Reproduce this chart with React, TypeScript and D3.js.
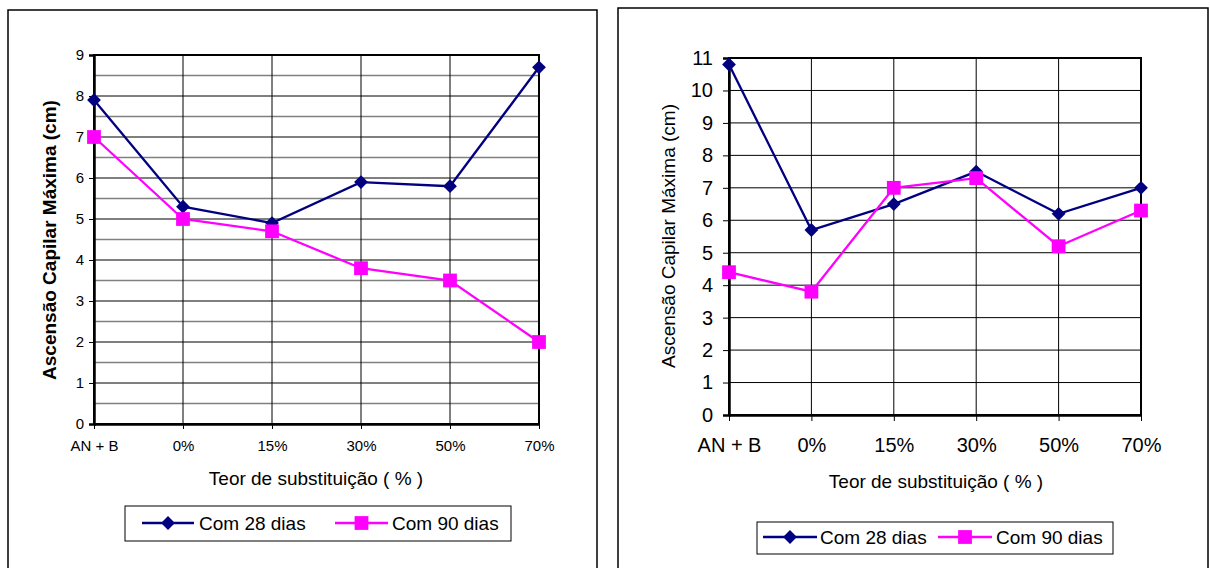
import * as d3 from 'd3';
import { useEffect, useRef } from 'react';

const categories = ["AN + B", "0%", "15%", "30%", "50%", "70%"];
const seriesNames = ["Com 28 dias", "Com 90 dias"];

// left panel (bold axis title, minor grid)
const left28 = [7.9, 5.3, 4.9, 5.9, 5.8, 8.7];
const left90 = [7.0, 5.0, 4.7, 3.8, 3.5, 2.0];
const leftYTicks = [0, 1, 2, 3, 4, 5, 6, 7, 8, 9];

// right panel
const right28 = [10.8, 5.7, 6.5, 7.5, 6.2, 7.0];
const right90 = [4.4, 3.8, 7.0, 7.3, 5.2, 6.3];
const rightYTicks = [0, 1, 2, 3, 4, 5, 6, 7, 8, 9, 10, 11];

const yTitle = "Ascensão Capilar Máxima (cm)";
const xTitle = "Teor de substituição ( % )";

const FONT = "Arial, 'Liberation Sans', sans-serif";
const NAVY = "#000080";
const MAGENTA = "#FF00FF";

interface PanelOpts {
  frame: { left: number; top: number; right: number };
  plot: { left: number; top: number; right: number; bottom: number };
  yTicks: number[];
  s28: number[];
  s90: number[];
  minorGrid: boolean;
  tickFont: number;
  xTickFont: number;
  yTickSize: number;
  yTickPad: number;
  xTickPad: number;
  yTitleBold: boolean;
  yTitleX: number;
  yTitleY: number;
  xTitleX: number;
  xTitleY: number;
  legend: { left: number; top: number; right: number; bottom: number; cy: number;
    l1: [number, number]; t1: number; l2: [number, number]; t2: number };
}

const leftPanel: PanelOpts = {
  frame: { left: 8, top: 10, right: 597 },
  plot: { left: 94, top: 55, right: 539, bottom: 424 },
  yTicks: leftYTicks, s28: left28, s90: left90,
  minorGrid: true,
  tickFont: 15, xTickFont: 15, yTickSize: 5, yTickPad: 5, xTickPad: 11,
  yTitleBold: true, yTitleX: 49, yTitleY: 240,
  xTitleX: 316, xTitleY: 478,
  legend: { left: 125, top: 506, right: 511, bottom: 541, cy: 523,
    l1: [142, 194], t1: 199, l2: [335, 388], t2: 392 },
};

const rightPanel: PanelOpts = {
  frame: { left: 618, top: 8, right: 1208 },
  plot: { left: 729, top: 58, right: 1141, bottom: 415 },
  yTicks: rightYTicks, s28: right28, s90: right90,
  minorGrid: false,
  tickFont: 20, xTickFont: 20, yTickSize: 6, yTickPad: 10, xTickPad: 17,
  yTitleBold: false, yTitleX: 668, yTitleY: 236,
  xTitleX: 936, xTitleY: 481,
  legend: { left: 757, top: 522, right: 1113, bottom: 554, cy: 537,
    l1: [763, 817], t1: 820, l2: [938, 992], t2: 996 },
};

const diamond = d3.symbol(d3.symbolSquare, 95)();
const square = d3.symbol(d3.symbolSquare, 190)();

function drawPanel(svg: d3.Selection<SVGSVGElement, unknown, null, undefined>, o: PanelOpts) {
  const g = svg.append("g");
  const { plot } = o;
  const yMax = o.yTicks[o.yTicks.length - 1];

  // outer frame (bottom edge is cut off by the page)
  g.append("path")
    .attr("d", `M${o.frame.left},580V${o.frame.top}H${o.frame.right}V580`)
    .attr("fill", "none").attr("stroke", "#000").attr("stroke-width", 1.5);

  const x = d3.scalePoint<string>().domain(categories).range([plot.left, plot.right]).padding(0);
  const y = d3.scaleLinear().domain([0, yMax]).range([plot.bottom, plot.top]);

  if (o.minorGrid) {
    g.append("g").selectAll("line")
      .data(d3.range(0.5, yMax, 1))
      .join("line")
      .attr("x1", plot.left).attr("x2", plot.right)
      .attr("y1", d => y(d)).attr("y2", d => y(d))
      .attr("stroke", "#808080").attr("stroke-width", 1.5);
  }

  g.append("g").selectAll("line")
    .data(o.yTicks.slice(1))
    .join("line")
    .attr("x1", plot.left).attr("x2", plot.right)
    .attr("y1", d => y(d)).attr("y2", d => y(d))
    .attr("stroke", "#000").attr("stroke-width", 1);

  g.append("g").selectAll("line")
    .data(categories.slice(1))
    .join("line")
    .attr("x1", d => x(d)!).attr("x2", d => x(d)!)
    .attr("y1", plot.top).attr("y2", plot.bottom)
    .attr("stroke", "#000").attr("stroke-width", 1);

  g.append("rect")
    .attr("x", plot.left).attr("y", plot.top)
    .attr("width", plot.right - plot.left).attr("height", plot.bottom - plot.top)
    .attr("fill", "none").attr("stroke", "#000").attr("stroke-width", 2);

  const yAxis = g.append("g")
    .attr("transform", `translate(${plot.left},0)`)
    .call(d3.axisLeft(y).tickValues(o.yTicks).tickSize(o.yTickSize).tickPadding(o.yTickPad).tickFormat(d3.format("d")));
  yAxis.select(".domain").attr("stroke", "#000").attr("stroke-width", 2.5);
  yAxis.selectAll(".tick line").attr("stroke", "#000").attr("stroke-width", 1);
  yAxis.selectAll("text").attr("font-size", o.tickFont).attr("font-family", FONT).attr("fill", "#000");

  const xAxis = g.append("g")
    .attr("transform", `translate(0,${plot.bottom})`)
    .call(d3.axisBottom(x).tickSize(o.yTickSize).tickPadding(o.xTickPad).tickSizeOuter(0));
  xAxis.select(".domain").attr("stroke", "#000").attr("stroke-width", 2.5);
  xAxis.selectAll(".tick line").attr("stroke", "#000").attr("stroke-width", 1);
  xAxis.selectAll("text").attr("font-size", o.xTickFont).attr("font-family", FONT).attr("fill", "#000");

  // titles
  g.append("text")
    .attr("transform", `translate(${o.yTitleX},${o.yTitleY}) rotate(-90)`)
    .attr("text-anchor", "middle").attr("dy", "0.35em")
    .attr("font-family", FONT).attr("font-size", 19)
    .attr("font-weight", o.yTitleBold ? "bold" : "normal")
    .text(yTitle);

  g.append("text")
    .attr("x", o.xTitleX).attr("y", o.xTitleY)
    .attr("text-anchor", "middle").attr("dy", "0.35em")
    .attr("font-family", FONT).attr("font-size", 19)
    .text(xTitle);

  // series
  const line = d3.line<number>()
    .x((_, i) => x(categories[i])!)
    .y(d => y(d));

  const series = [
    { values: o.s28, color: NAVY, marker: diamond, rot: 45 },
    { values: o.s90, color: MAGENTA, marker: square, rot: 0 },
  ];

  series.forEach(s => {
    g.append("path")
      .datum(s.values)
      .attr("fill", "none").attr("stroke", s.color).attr("stroke-width", 2.3)
      .attr("d", line);
    g.append("g").selectAll("path")
      .data(s.values)
      .join("path")
      .attr("d", s.marker)
      .attr("transform", (d, i) => `translate(${x(categories[i])},${y(d)}) rotate(${s.rot})`)
      .attr("fill", s.color);
  });

  // legend
  const lg = o.legend;
  g.append("rect")
    .attr("x", lg.left).attr("y", lg.top)
    .attr("width", lg.right - lg.left).attr("height", lg.bottom - lg.top)
    .attr("fill", "#fff").attr("stroke", "#000").attr("stroke-width", 1);

  const items = [
    { l: lg.l1, t: lg.t1, ...series[0], name: seriesNames[0] },
    { l: lg.l2, t: lg.t2, ...series[1], name: seriesNames[1] },
  ];
  items.forEach(it => {
    g.append("line")
      .attr("x1", it.l[0]).attr("x2", it.l[1])
      .attr("y1", lg.cy).attr("y2", lg.cy)
      .attr("stroke", it.color).attr("stroke-width", 2.3);
    g.append("path")
      .attr("d", it.marker)
      .attr("transform", `translate(${(it.l[0] + it.l[1]) / 2},${lg.cy}) rotate(${it.rot})`)
      .attr("fill", it.color);
    g.append("text")
      .attr("x", it.t).attr("y", lg.cy).attr("dy", "0.35em")
      .attr("font-family", FONT).attr("font-size", 19)
      .text(it.name);
  });
}

export default function App() {
  const ref = useRef<SVGSVGElement | null>(null);

  useEffect(() => {
    const svg = d3.select(ref.current!);
    svg.selectAll("*").remove();
    svg.attr("width", 1210).attr("height", 568);
    svg.append("rect").attr("width", 1210).attr("height", 568).attr("fill", "#fff");
    drawPanel(svg, leftPanel);
    drawPanel(svg, rightPanel);
  }, []);

  return <svg ref={ref} style={{ position: 'absolute', left: 0, top: 0 }}></svg>;
}
